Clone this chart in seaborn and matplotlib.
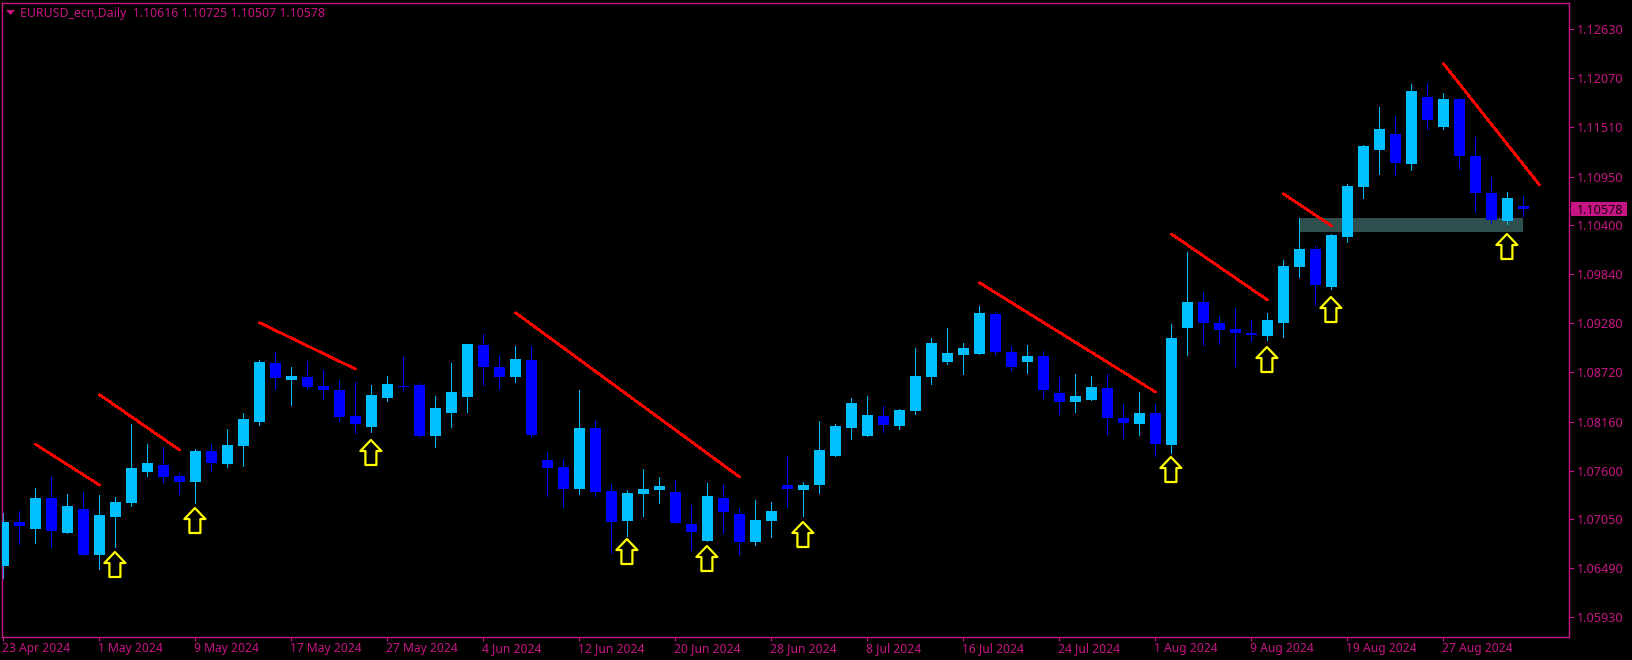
import numpy as np
import pandas as pd
import seaborn as sns
import matplotlib
matplotlib.use("Agg")
import matplotlib.pyplot as plt
from matplotlib.path import Path
from matplotlib.patches import Rectangle
from matplotlib.transforms import ScaledTranslation, blended_transform_factory

# ---- data ----
opens = [1.06516,1.07017,1.06937,1.07290,1.06892,1.07165,1.06641,1.07074,1.07233,1.07586,
         1.07666,1.07541,1.07473,1.07826,1.07678,1.07883,1.08156,1.08828,1.08634,1.08668,
         1.08566,1.08520,1.08224,1.08099,1.08429,1.08566,1.08577,1.07996,1.08258,1.08441,
         1.09033,1.08782,1.08668,1.08862,1.07723,1.07643,1.07393,1.08088,1.07370,1.07028,
         1.07336,1.07382,1.07359,1.06994,1.06801,1.07290,1.07108,1.06789,1.07028,1.07438,
         1.07381,1.07438,1.07768,1.08087,1.07996,1.08224,1.08110,1.08281,1.08668,1.08839,
         1.08919,1.08930,1.09386,1.08953,1.08839,1.08907,1.08486,1.08383,1.08406,1.08543,
         1.08201,1.08133,1.08258,1.07894,1.09226,1.09522,1.09283,1.09215,1.09169,1.09135,
         1.09283,1.09921,1.10126,1.09693,1.10262,1.10832,1.11253,1.11435,1.11094,1.11857,
         1.11515,1.11834,1.11185,1.10764,1.10445,1.10616]
highs = [1.07116,1.07142,1.07404,1.07530,1.07336,1.07359,1.07325,1.07302,1.08133,1.07905,
         1.07871,1.07575,1.07848,1.07905,1.08076,1.08258,1.08862,1.08953,1.08782,1.08851,
         1.08748,1.08634,1.08611,1.08577,1.08680,1.08896,1.08600,1.08452,1.08828,1.09044,
         1.09158,1.08919,1.09021,1.09021,1.07814,1.07735,1.08520,1.08167,1.07450,1.07382,
         1.07621,1.07530,1.07495,1.07211,1.07461,1.07438,1.07177,1.07268,1.07245,1.07769,
         1.07472,1.08167,1.08133,1.08429,1.08452,1.08338,1.08304,1.08998,1.09112,1.09226,
         1.09055,1.09477,1.09408,1.09021,1.09032,1.08964,1.08668,1.08702,1.08679,1.08702,
         1.08361,1.08497,1.08361,1.09272,1.10092,1.09636,1.09363,1.09454,1.09317,1.09397,
         1.10001,1.10479,1.10160,1.10297,1.10866,1.11310,1.11743,1.11640,1.12005,1.12016,
         1.11902,1.11845,1.11401,1.10946,1.10775,1.10725]
lows  = [1.06383,1.06767,1.06778,1.06732,1.06892,1.06641,1.06482,1.06732,1.07199,1.07541,
         1.07473,1.07336,1.07233,1.07598,1.07643,1.07655,1.08122,1.08532,1.08349,1.08532,
         1.08418,1.08167,1.08031,1.08042,1.08395,1.08520,1.07985,1.07871,1.08099,1.08270,
         1.08577,1.08532,1.08611,1.07985,1.07313,1.07188,1.07336,1.07313,1.06664,1.06858,
         1.07085,1.07233,1.07006,1.06698,1.06801,1.06892,1.06653,1.06755,1.06846,1.07188,
         1.07085,1.07347,1.07768,1.07962,1.07996,1.08042,1.08076,1.08247,1.08588,1.08816,
         1.08702,1.08930,1.08930,1.08748,1.08714,1.08429,1.08247,1.08270,1.08406,1.08019,
         1.07973,1.08008,1.07768,1.07803,1.08919,1.09033,1.09044,1.08797,1.09078,1.09089,
         1.09124,1.09807,1.09488,1.09670,1.10205,1.10707,1.10980,1.10968,1.11025,1.11492,
         1.11492,1.11037,1.10547,1.10422,1.10410,1.10507]
closes = [1.07017,1.06972,1.07290,1.06915,1.07199,1.06641,1.07097,1.07245,1.07632,1.07689,
          1.07530,1.07473,1.07826,1.07689,1.07894,1.08190,1.08839,1.08657,1.08680,1.08554,
          1.08520,1.08213,1.08133,1.08463,1.08589,1.08554,1.07996,1.08315,1.08498,1.09044,
          1.08782,1.08668,1.08873,1.08008,1.07632,1.07393,1.08088,1.07359,1.07017,1.07347,
          1.07393,1.07427,1.07006,1.06903,1.07313,1.07131,1.06789,1.07040,1.07142,1.07393,
          1.07438,1.07837,1.08110,1.08372,1.08235,1.08121,1.08292,1.08679,1.09055,1.08941,
          1.08998,1.09397,1.08953,1.08782,1.08907,1.08520,1.08383,1.08452,1.08554,1.08201,
          1.08144,1.08258,1.07905,1.09112,1.09522,1.09283,1.09203,1.09169,1.09146,1.09317,
          1.09932,1.10126,1.09716,1.10285,1.10843,1.11299,1.11492,1.11105,1.11925,1.11595,
          1.11834,1.11185,1.10764,1.10456,1.10707,1.10578]

trend_start_idx = [2, 6, 16, 32, 61, 73, 80, 90]
trend_end_idx   = [6, 11, 22, 46, 72, 79, 83, 96]
trend_start_px  = [1.07902, 1.08467, 1.09287, 1.09401, 1.09742, 1.10297, 1.10756, 1.12236]
trend_end_px    = [1.07438, 1.07837, 1.08759, 1.07530, 1.08497, 1.09545, 1.10388, 1.10855]

arrow_idx = [7, 12, 23, 39, 44, 50, 73, 79, 83, 94]
arrow_px  = [1.06531, 1.07028, 1.07803, 1.06679, 1.06596, 1.06869, 1.07609, 1.08858, 1.09431, 1.10149]

zone_idx = (81, 95)
zone_px = (1.10319, 1.10479)

y_ticks = [1.05930,1.06490,1.07050,1.07600,1.08160,1.08720,1.09280,1.09840,1.10400,1.10950,1.11510,1.12070,1.12630]
x_tick_idx = [0,6,12,18,24,30,36,42,48,54,60,66,72,78,84,90]
x_tick_labels = ["23 Apr 2024","1 May 2024","9 May 2024","17 May 2024","27 May 2024","4 Jun 2024",
                 "12 Jun 2024","20 Jun 2024","28 Jun 2024","8 Jul 2024","16 Jul 2024","24 Jul 2024",
                 "1 Aug 2024","9 Aug 2024","19 Aug 2024","27 Aug 2024"]
header = "EURUSD_ecn,Daily  1.10616 1.10725 1.10507 1.10578"
last_price = 1.10578

# ---- styling ----
FRAME = "#C71585"
UP = "#00BFFF"
DOWN = "#0000FF"
sns.set_theme(style="dark", rc={"axes.facecolor": "black", "figure.facecolor": "black",
                                "axes.edgecolor": FRAME, "axes.linewidth": 0.9})
plt.rcParams["font.family"] = ["Noto Sans", "DejaVu Sans"]

W, H = 1633, 660
fig = plt.figure(figsize=(W / 100, H / 100), dpi=100, facecolor="black")
L, R, T, B = 2.5, 1569.5, 2.5, 636.5
ax = fig.add_axes([L / W, 1 - B / H, (R - L) / W, (B - T) / H])
ax.set_facecolor("black")

df = pd.DataFrame({"o": opens, "h": highs, "l": lows, "c": closes})
df["i"] = np.arange(len(df))
df["col"] = np.where(df.c >= df.o, UP, DOWN)
df["top"] = df[["o", "c"]].max(axis=1)
df["bot"] = df[["o", "c"]].min(axis=1)

ax.add_patch(Rectangle((zone_idx[0], zone_px[0]), zone_idx[1] - zone_idx[0], zone_px[1] - zone_px[0],
                       facecolor="#2F4F4F", edgecolor="none", zorder=1))
ax.vlines(df.i, df.l, df.h, colors=df.col, linewidth=0.72, zorder=2, antialiased=False)
ax.bar(df.i, df.top - df.bot, bottom=df.bot, width=0.6875, color=df.col, linewidth=0,
       zorder=3, antialiased=False)

for a, b, p, q in zip(trend_start_idx, trend_end_idx, trend_start_px, trend_end_px):
    sns.lineplot(x=[a, b], y=[p, q], ax=ax, color="#FF0000", linewidth=1.2, zorder=4,
                 errorbar=None, estimator=None, antialiased=False)

arrow_shape = Path([(-0.6, 13.5), (9.9, 2.5), (4.9, 2.5), (4.9, -11.5), (-6.1, -11.5),
                    (-6.1, 2.5), (-11.1, 2.5), (-0.6, 13.5)], closed=True)
ax.scatter(arrow_idx, arrow_px, marker=arrow_shape, s=(27 * 0.72) ** 2, facecolors="black",
           edgecolors="#FFFF00", linewidths=1.6, zorder=5)

ax.set_xlim((L - 3.5) / 16, (R - 3.5) / 16)
ppx = 0.0279 / 245
ax.set_ylim(1.12070 - (B - 78.3) * ppx, 1.12070 + (78.3 - T) * ppx)
ax.grid(False)
for s in ax.spines.values():
    s.set_color(FRAME)
    s.set_linewidth(1.0)

ax.yaxis.tick_right()
ax.set_yticks(y_ticks)
ax.set_yticklabels([f"{v:.5f}" for v in y_ticks], fontsize=9.1, color=FRAME)
ax.set_yticks([last_price], minor=True)
ax.tick_params(axis="y", which="both", right=True, length=3.5, width=0.8, color=FRAME, pad=1.5, left=False)
ax.set_xticks(x_tick_idx)
ax.set_xticklabels(x_tick_labels, fontsize=8.7, color=FRAME, ha="left")
ax.tick_params(axis="x", bottom=True, length=3, width=0.8, color=FRAME, pad=1)
shift = ScaledTranslation(-1 / 100, 0, fig.dpi_scale_trans)
for t in ax.get_xticklabels():
    t.set_transform(t.get_transform() + shift)

box_tr = blended_transform_factory(ax.transAxes, ax.transData)
ax.add_patch(Rectangle(((1571 - L) / (R - L), last_price - 7 * ppx), 56 / (R - L), 14 * ppx,
                       transform=box_tr, facecolor=FRAME, edgecolor="none", clip_on=False, zorder=6))
ax.text((1576.5 - L) / (R - L), last_price, f"{last_price:.5f}", transform=box_tr, va="center_baseline",
        ha="left", fontsize=9.1, color="#12000A", clip_on=False, zorder=7)

fig.text(20 / W, 1 - 13.5 / H, header, color=FRAME, fontsize=8.9, ha="left", va="center")
fig.add_artist(plt.Polygon([[6 / W, 1 - 10 / H], [15 / W, 1 - 10 / H], [10.5 / W, 1 - 15 / H]],
                           closed=True, transform=fig.transFigure, facecolor=FRAME, edgecolor="none"))

fig.savefig("out.png", dpi=100, facecolor="black")
